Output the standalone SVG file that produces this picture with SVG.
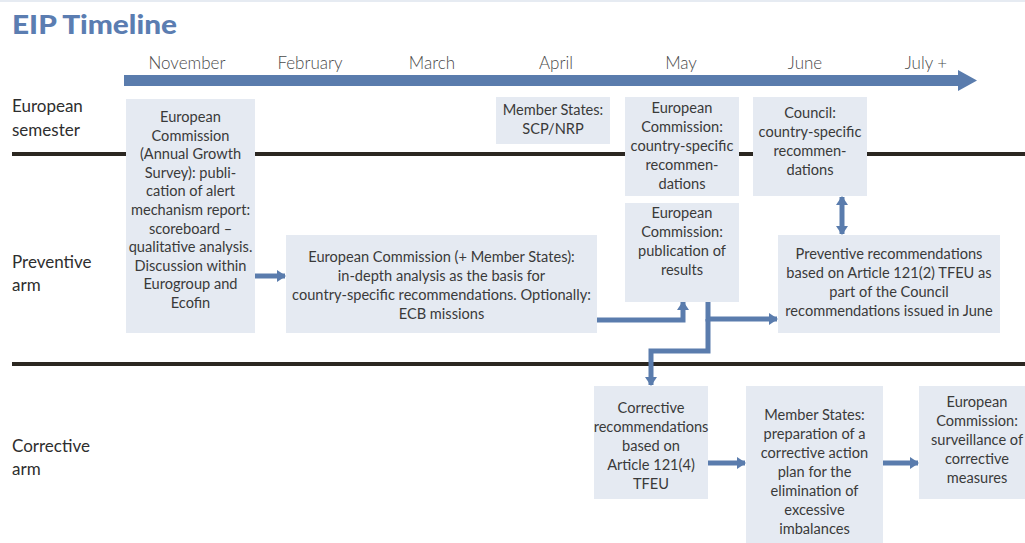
<svg xmlns="http://www.w3.org/2000/svg" width="1025" height="543" viewBox="0 0 1025 543">
<defs>
<style>
.box{fill:#e5eaf2}
.t{font-family:Lato,"Open Sans",sans-serif;font-size:14.6px;fill:#3a3a3a;text-anchor:middle}
.lbl{font-family:Lato,"Open Sans",sans-serif;font-size:17px;fill:#2e2e2e}
.mon{font-family:Lato,"Open Sans",sans-serif;font-size:17px;font-weight:300;fill:#4a4a4a;text-anchor:middle}
.sep{stroke:#2b2721;stroke-width:4;fill:none}
.c{stroke:#5a7cad;stroke-width:5;fill:none}
</style>
<marker id="ah" markerUnits="userSpaceOnUse" markerWidth="10" markerHeight="12" refX="8" refY="6" orient="auto-start-reverse">
<path d="M0,0 L9,6 L0,12 Z" fill="#5a7cad"/>
</marker>
</defs>
<rect width="1025" height="543" fill="#ffffff"/>
<line x1="0" y1="1" x2="1025" y2="1" stroke="#e6ebf2" stroke-width="2"/>
<text x="12" y="34" font-family="Lato,'Open Sans',sans-serif" font-size="27" font-weight="900" fill="#5b7db1" textLength="165" lengthAdjust="spacingAndGlyphs">EIP Timeline</text>

<g id="timeline">
<rect x="124" y="75" width="836" height="11" fill="#5a7cad"/>
<path d="M958,70 L977,80.5 L958,91 Z" fill="#5a7cad"/>
<text class="mon" x="187" y="69">November</text>
<text class="mon" x="310" y="69">February</text>
<text class="mon" x="432" y="69">March</text>
<text class="mon" x="556" y="69">April</text>
<text class="mon" x="681" y="69">May</text>
<text class="mon" x="805" y="69">June</text>
<text class="mon" x="926" y="69">July +</text>
</g>

<g id="separators">
<line class="sep" x1="12" y1="154" x2="1025" y2="154"/>
<line class="sep" x1="12" y1="364" x2="1025" y2="364"/>
</g>

<g id="row-labels">
<text class="lbl" x="12" y="112">European</text>
<text class="lbl" x="12" y="136">semester</text>
<text class="lbl" x="12" y="268">Preventive</text>
<text class="lbl" x="12" y="291">arm</text>
<text class="lbl" x="12" y="452">Corrective</text>
<text class="lbl" x="12" y="475">arm</text>
</g>

<g id="connectors">
<line class="c" x1="255" y1="276" x2="285" y2="276" marker-end="url(#ah)"/>
<polyline class="c" points="597,320 683,320 683,302" marker-end="url(#ah)"/>
<polyline class="c" points="708,302 708,319 777,319" marker-end="url(#ah)"/>
<polyline class="c" points="708,319 708,351 651,351 651,385" marker-end="url(#ah)"/>
<line class="c" x1="842" y1="197" x2="842" y2="234" marker-start="url(#ah)" marker-end="url(#ah)"/>
<line class="c" x1="708" y1="463" x2="745" y2="463" marker-end="url(#ah)"/>
<line class="c" x1="883" y1="463" x2="918" y2="463" marker-end="url(#ah)"/>
</g>

<g id="n-ags">
<rect class="box" x="126" y="99" width="129" height="234"/>
<text class="t" x="190.5" y="122">European</text>
<text class="t" x="190.5" y="140.6">Commission</text>
<text class="t" x="190.5" y="159.2">(Annual Growth</text>
<text class="t" x="190.5" y="177.8">Survey): publi-</text>
<text class="t" x="190.5" y="196.4">cation of alert</text>
<text class="t" x="190.5" y="215">mechanism report:</text>
<text class="t" x="190.5" y="233.6">scoreboard –</text>
<text class="t" x="190.5" y="252.2">qualitative analysis.</text>
<text class="t" x="190.5" y="270.8">Discussion within</text>
<text class="t" x="190.5" y="289.4">Eurogroup and</text>
<text class="t" x="190.5" y="308">Ecofin</text>
</g>

<g id="n-analysis">
<rect class="box" x="286" y="235" width="311" height="98"/>
<text class="t" x="441.5" y="262">European Commission (+ Member States):</text>
<text class="t" x="441.5" y="281">in-depth analysis as the basis for</text>
<text class="t" x="441.5" y="300">country-specific recommendations. Optionally:</text>
<text class="t" x="441.5" y="319">ECB missions</text>
</g>

<g id="n-scp">
<rect class="box" x="496" y="97" width="114" height="47"/>
<text class="t" x="553" y="115">Member States:</text>
<text class="t" x="553" y="134">SCP/NRP</text>
</g>

<g id="n-ec-csr">
<rect class="box" x="625" y="97" width="114" height="99"/>
<text class="t" x="682" y="113">European</text>
<text class="t" x="682" y="132">Commission:</text>
<text class="t" x="682" y="151">country-specific</text>
<text class="t" x="682" y="170">recommen-</text>
<text class="t" x="682" y="189">dations</text>
</g>

<g id="n-ec-pub">
<rect class="box" x="625" y="203" width="114" height="99"/>
<text class="t" x="682" y="218">European</text>
<text class="t" x="682" y="237">Commission:</text>
<text class="t" x="682" y="256">publication of</text>
<text class="t" x="682" y="275">results</text>
</g>

<g id="n-council">
<rect class="box" x="753" y="97" width="114" height="99"/>
<text class="t" x="810" y="118">Council:</text>
<text class="t" x="810" y="137">country-specific</text>
<text class="t" x="810" y="156">recommen-</text>
<text class="t" x="810" y="175">dations</text>
</g>

<g id="n-preventive">
<rect class="box" x="778" y="235" width="222" height="98"/>
<text class="t" x="889" y="259">Preventive recommendations</text>
<text class="t" x="889" y="278">based on Article 121(2) TFEU as</text>
<text class="t" x="889" y="297">part of the Council</text>
<text class="t" x="889" y="316">recommendations issued in June</text>
</g>

<g id="n-corrective">
<rect class="box" x="594" y="386" width="114" height="113"/>
<text class="t" x="651" y="413">Corrective</text>
<text class="t" x="651" y="432">recommendations</text>
<text class="t" x="651" y="451">based on</text>
<text class="t" x="651" y="470">Article 121(4)</text>
<text class="t" x="651" y="489">TFEU</text>
</g>

<g id="n-action-plan">
<rect class="box" x="746" y="386" width="137" height="157"/>
<text class="t" x="814.5" y="420">Member States:</text>
<text class="t" x="814.5" y="439">preparation of a</text>
<text class="t" x="814.5" y="458">corrective action</text>
<text class="t" x="814.5" y="477">plan for the</text>
<text class="t" x="814.5" y="496">elimination of</text>
<text class="t" x="814.5" y="515">excessive</text>
<text class="t" x="814.5" y="534">imbalances</text>
</g>

<g id="n-surveillance">
<rect class="box" x="919" y="386" width="116" height="113"/>
<text class="t" x="977" y="407">European</text>
<text class="t" x="977" y="426">Commission:</text>
<text class="t" x="977" y="445">surveillance of</text>
<text class="t" x="977" y="464">corrective</text>
<text class="t" x="977" y="483">measures</text>
</g>
</svg>
